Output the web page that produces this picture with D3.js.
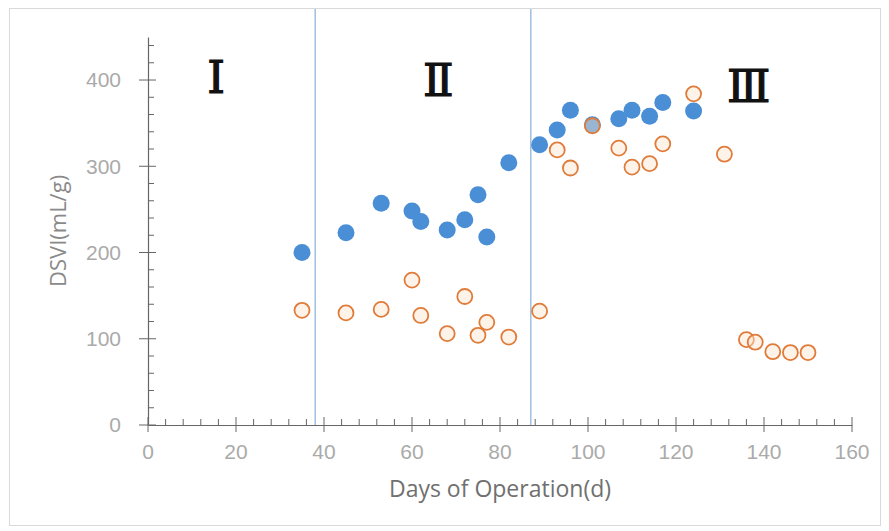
<!DOCTYPE html>
<html>
<head>
<meta charset="utf-8">
<script src="https://cdn.jsdelivr.net/npm/d3@7"></script>
<style>
  html, body { margin: 0; padding: 0; background: #fff; }
  svg { display: block; }
</style>
</head>
<body>
<svg id="chart" width="889" height="531"></svg>
<script>
// ---- data ----
const blueDays = [35, 45, 53, 60, 62, 68, 72, 75, 77, 82, 89, 93, 96, 101, 107, 110, 114, 117, 124];
const blueDSVI = [200, 223, 257, 248, 236, 226, 238, 267, 218, 304, 325, 342, 365, 348, 355, 365, 358, 374, 364];
const orangeDays = [35, 45, 53, 60, 62, 68, 72, 75, 77, 82, 89, 93, 96, 101, 107, 110, 114, 117, 124, 131, 136, 138, 142, 146, 150];
const orangeDSVI = [133, 130, 134, 168, 127, 106, 149, 104, 119, 102, 132, 319, 298, 347, 321, 299, 303, 326, 384, 314, 99, 96, 85, 84, 84];
const xTicks = [0, 20, 40, 60, 80, 100, 120, 140, 160];
const yTicks = [0, 100, 200, 300, 400];
const phaseBounds = [38, 87];
const phaseLabels = ["Ⅰ", "Ⅱ", "Ⅲ"];
const phaseLabelX = [15.5, 66, 136.5];
const phaseLabelY = [385, 381, 374];
const xTitle = "Days of Operation(d)";
const yTitle = "DSVI(mL/g)";

// ---- layout ----
const svg = d3.select("#chart");
const x = d3.scaleLinear().domain([0, 160]).range([148, 852]);
const y = d3.scaleLinear().domain([0, 450]).range([425, 36.9]);

// outer frame
svg.append("rect").attr("x", 9.5).attr("y", 8.5).attr("width", 871).attr("height", 517)
  .attr("fill", "#fff").attr("stroke", "#d9d9d9").attr("stroke-width", 1);

// phase divider lines
svg.selectAll("line.phase").data(phaseBounds).enter().append("line")
  .attr("class", "phase")
  .attr("x1", d => x(d)).attr("x2", d => x(d))
  .attr("y1", 9).attr("y2", y(0))
  .attr("stroke", "#9fbfdf").attr("stroke-width", 1.5);

const axisColor = "#666";
const tickColor = "#aaaaaa";
const fontFam = "'Liberation Sans', Arial, sans-serif";

// x axis
const xAxisG = svg.append("g").attr("transform", `translate(0,${y(0)})`);
xAxisG.call(d3.axisBottom(x).tickValues(d3.range(0, 161, 4)).tickSize(0).tickFormat(""));
xAxisG.select(".domain").attr("stroke", axisColor).attr("stroke-width", 1.2);
xAxisG.selectAll("line.minor").data(d3.range(0, 161, 4).filter(d => d % 20 !== 0)).enter().append("line")
  .attr("x1", d => x(d)).attr("x2", d => x(d)).attr("y1", 0).attr("y2", -6)
  .attr("stroke", axisColor).attr("stroke-width", 1);
xAxisG.selectAll("line.major").data(xTicks).enter().append("line")
  .attr("x1", d => x(d)).attr("x2", d => x(d)).attr("y1", -8).attr("y2", 7)
  .attr("stroke", axisColor).attr("stroke-width", 1);
xAxisG.selectAll("text.lbl").data(xTicks).enter().append("text")
  .attr("x", d => x(d)).attr("y", 34)
  .attr("text-anchor", "middle")
  .attr("font-family", fontFam).attr("font-size", 21).attr("fill", tickColor)
  .text(d => d);

// y axis
const yAxisG = svg.append("g").attr("transform", `translate(${x(0)},0)`);
yAxisG.call(d3.axisLeft(y).tickValues(yTicks).tickSize(0).tickFormat(""));
yAxisG.select(".domain").attr("stroke", axisColor).attr("stroke-width", 1.2);
yAxisG.selectAll("line.minor").data(d3.range(0, 451, 20).filter(d => d % 100 !== 0)).enter().append("line")
  .attr("x1", 0).attr("x2", 6).attr("y1", d => y(d)).attr("y2", d => y(d))
  .attr("stroke", axisColor).attr("stroke-width", 1);
yAxisG.selectAll("line.major").data(yTicks).enter().append("line")
  .attr("x1", -9).attr("x2", 8).attr("y1", d => y(d)).attr("y2", d => y(d))
  .attr("stroke", axisColor).attr("stroke-width", 1);
yAxisG.selectAll("text.lbl").data(yTicks).enter().append("text")
  .attr("x", -27).attr("y", d => y(d)).attr("dy", "0.35em")
  .attr("text-anchor", "end")
  .attr("font-family", fontFam).attr("font-size", 21).attr("fill", tickColor)
  .text(d => d);

// titles
svg.append("text").attr("x", x(80)).attr("y", 497)
  .attr("text-anchor", "middle")
  .attr("font-family", "'Open Sans', sans-serif").attr("font-size", 23).attr("fill", "#707070")
  .text(xTitle);
svg.append("text").attr("transform", `translate(66,${y(225)}) rotate(-90)`)
  .attr("text-anchor", "middle")
  .attr("font-family", "'Open Sans', sans-serif").attr("font-size", 22).attr("fill", "#8a8a8a")
  .text(yTitle);

// phase labels
svg.selectAll("text.phaseLbl").data(phaseLabels).enter().append("text")
  .attr("x", (d, i) => x(phaseLabelX[i])).attr("y", (d, i) => y(phaseLabelY[i]))
  .attr("text-anchor", "middle")
  .attr("font-family", "'DejaVu Serif', 'Liberation Serif', serif")
  .attr("font-size", 45).attr("fill", "#111")
  .attr("stroke", "#111").attr("stroke-width", 1.2)
  .text(d => d);

// series
const blue = blueDays.map((d, i) => ({ d, v: blueDSVI[i] }));
const orange = orangeDays.map((d, i) => ({ d, v: orangeDSVI[i] }));

svg.selectAll("circle.blue").data(blue).enter().append("circle")
  .attr("cx", p => x(p.d)).attr("cy", p => y(p.v)).attr("r", 8.5)
  .attr("fill", "#4a8ed6");

svg.selectAll("circle.orange").data(orange).enter().append("circle")
  .attr("cx", p => x(p.d)).attr("cy", p => y(p.v)).attr("r", 7.5)
  .attr("fill", "rgba(252,228,205,0.45)").attr("stroke", "#e07b39").attr("stroke-width", 1.8);
</script>
</body>
</html>
